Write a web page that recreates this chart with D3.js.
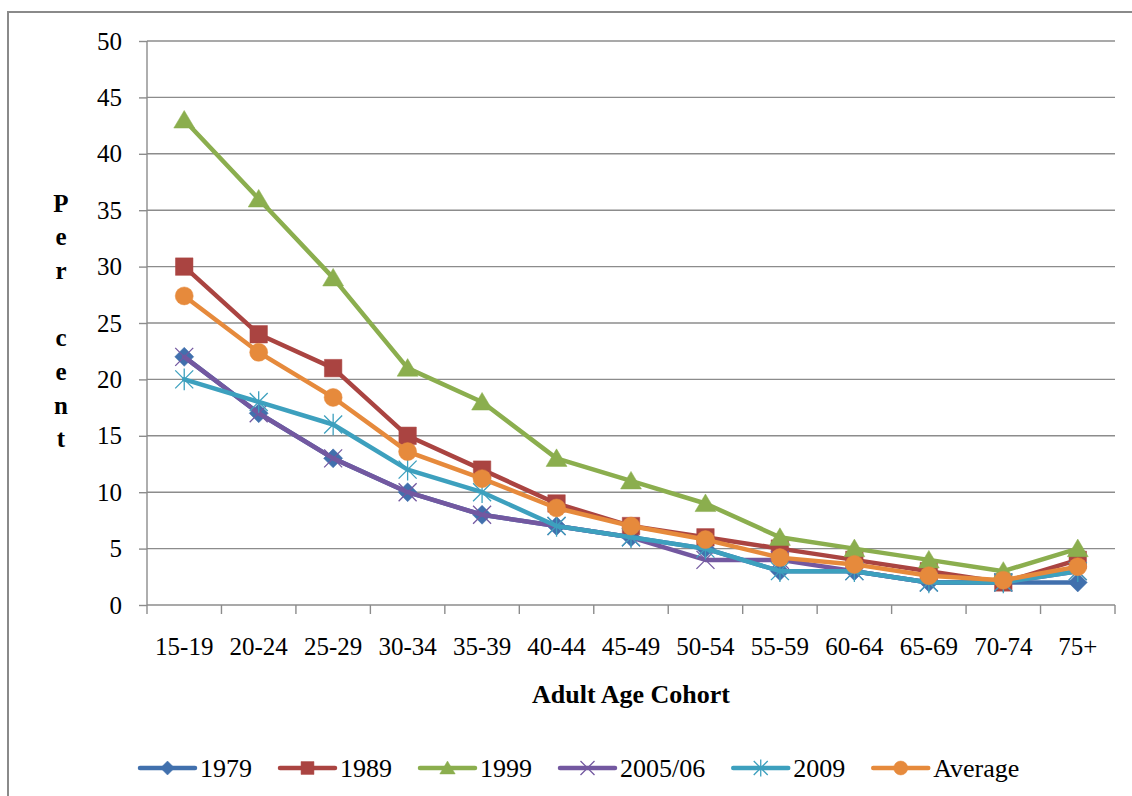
<!DOCTYPE html>
<html>
<head>
<meta charset="utf-8">
<script src="https://cdn.jsdelivr.net/npm/d3@7"></script>
<style>
html,body{margin:0;padding:0;background:#fff;}
svg{display:block;}
svg text{font-family:"Liberation Serif","Times New Roman","DejaVu Serif",serif !important;fill:#000;}
</style>
</head>
<body>
<svg id="chart" width="1132" height="796" font-family="Liberation Serif"></svg>
<script>
const categories = ["15-19","20-24","25-29","30-34","35-39","40-44","45-49","50-54","55-59","60-64","65-69","70-74","75+"];
const s1979 = [22,17,13,10,8,7,6,5,3,3,2,2,2];
const s1989 = [30,24,21,15,12,9,7,6,5,4,3,2,4];
const s1999 = [43,36,29,21,18,13,11,9,6,5,4,3,5];
const s2005 = [22,17,13,10,8,7,6,4,4,3,2,2,3];
const s2009 = [20,18,16,12,10,7,6,5,3,3,2,2,3];
const sAvg  = [27.4,22.4,18.4,13.6,11.2,8.6,7.0,5.8,4.2,3.6,2.6,2.2,3.4];
const seriesNames = ["1979","1989","1999","2005/06","2009","Average"];
const yTicks = [0,5,10,15,20,25,30,35,40,45,50];
const yTitle = ["P","e","r","","c","e","n","t"];
const xTitle = "Adult Age Cohort";

const FONT = '"Liberation Serif","Times New Roman","DejaVu Serif",serif';

const series = [
  {name:seriesNames[0], values:s1979, color:"#4170AD", marker:"diamond"},
  {name:seriesNames[1], values:s1989, color:"#AA4441", marker:"square"},
  {name:seriesNames[2], values:s1999, color:"#8BAE4E", marker:"triangle"},
  {name:seriesNames[3], values:s2005, color:"#7358A0", marker:"x"},
  {name:seriesNames[4], values:s2009, color:"#3DA0BE", marker:"star"},
  {name:seriesNames[5], values:sAvg,  color:"#E68A3C", marker:"circle"}
];

const svg = d3.select("#chart");
const pLeft = 147, pRight = 1115, pTop = 41, pBottom = 605;

const x = d3.scaleBand().domain(categories).range([pLeft, pRight]).paddingInner(0).paddingOuter(0);
const y = d3.scaleLinear().domain([0, 50]).range([pBottom, pTop]);

// outer frame
svg.append("path").attr("d", "M8,800 L8,12 L1132,12").attr("fill","none").attr("stroke","#8a8a8a").attr("stroke-width",2);

// gridlines
svg.append("g").selectAll("line").data(yTicks.filter(d=>d>0)).join("line")
  .attr("x1", pLeft).attr("x2", pRight)
  .attr("y1", d=>y(d)).attr("y2", d=>y(d))
  .attr("stroke","#8c8c8c").attr("stroke-width",1.4);

// y axis
const yAxis = d3.axisLeft(y).tickValues(yTicks).tickSize(8).tickPadding(17).tickFormat(d3.format("d"));
const gy = svg.append("g").attr("transform",`translate(${pLeft},0)`).call(yAxis);
gy.attr("font-family", FONT).attr("font-size", 25);
gy.select(".domain").attr("stroke","#8c8c8c").attr("stroke-width",1.4).attr("d",`M0,${pTop}V${pBottom}`);
gy.selectAll(".tick line").attr("stroke","#8c8c8c").attr("stroke-width",1.4);
gy.selectAll(".tick text").style("font-family",FONT).style("font-size","25px").attr("fill","#000");

// x axis
const gx = svg.append("g").attr("transform",`translate(0,${pBottom})`);
gx.append("line").attr("x1",pLeft).attr("x2",pRight).attr("y1",0).attr("y2",0).attr("stroke","#8c8c8c").attr("stroke-width",1.4);
const bounds = categories.map(c=>x(c)).concat([x(categories[categories.length-1])+x.bandwidth()]);
gx.selectAll("line.tk").data(bounds).join("line").attr("class","tk")
  .attr("x1",d=>d).attr("x2",d=>d).attr("y1",0).attr("y2",9)
  .attr("stroke","#8c8c8c").attr("stroke-width",1.4);
gx.selectAll("text").data(categories).join("text")
  .attr("x",d=>x(d)+x.bandwidth()/2).attr("y",50)
  .attr("text-anchor","middle").style("font-family",FONT).style("font-size","25px").text(d=>d);

// axis titles
svg.append("text").attr("x",631).attr("y",703).attr("text-anchor","middle")
  .style("font-family",FONT).style("font-size","26px").style("font-weight","bold").text(xTitle);
svg.append("g").selectAll("text").data(yTitle).join("text")
  .attr("x",61).attr("y",(d,i)=>211.5+i*33.7).attr("text-anchor","middle")
  .style("font-family",FONT).style("font-size","25px").style("font-weight","bold").text(d=>d);

// marker paths
function markerPath(type, s){
  switch(type){
    case "diamond": return `M0,${-s}L${s},0L0,${s}L${-s},0Z`;
    case "square": return `M${-s*0.92},${-s*0.92}H${s*0.92}V${s*0.92}H${-s*0.92}Z`;
    case "triangle": return `M0,${-s}L${s*1.1},${s*0.85}L${-s*1.1},${s*0.85}Z`;
    case "x": return `M${-s},${-s}L${s},${s}M${s},${-s}L${-s},${s}`;
    case "star": return `M${-s},${-s}L${s},${s}M${s},${-s}L${-s},${s}M0,${-s*1.2}L0,${s*1.2}`;
    case "circle": return d3.symbol(d3.symbolCircle, Math.PI*s*s)();
  }
}
function drawMarker(g, type, color, s){
  const filled = !(type==="x"||type==="star");
  g.append("path").attr("d", markerPath(type, s))
    .attr("fill", filled ? color : "none")
    .attr("stroke", color)
    .attr("stroke-width", filled ? 0.5 : 1.3)
    .attr("stroke-linejoin","miter");
}

const line = d3.line().x((d,i)=>x(categories[i])+x.bandwidth()/2).y(d=>y(d));

series.forEach(sr=>{
  const g = svg.append("g");
  g.append("path").datum(sr.values).attr("d", line)
    .attr("fill","none").attr("stroke",sr.color).attr("stroke-width",4.5)
    .attr("stroke-linejoin","round").attr("stroke-linecap","round");
  sr.values.forEach((v,i)=>{
    const mg = g.append("g").attr("transform",`translate(${x(categories[i])+x.bandwidth()/2},${y(v)})`);
    const size = sr.marker==="circle" ? 9 : (sr.marker==="x"||sr.marker==="star" ? 9 : 9.5);
    drawMarker(mg, sr.marker, sr.color, size);
  });
});

// legend
const legend = svg.append("g");
let lx = 140;
const ly = 768;
series.forEach(sr=>{
  const g = legend.append("g");
  g.append("line").attr("x1",lx).attr("x2",lx+55).attr("y1",ly).attr("y2",ly)
    .attr("stroke",sr.color).attr("stroke-width",4.5).attr("stroke-linecap","round");
  const mg = g.append("g").attr("transform",`translate(${lx+27.5},${ly})`);
  drawMarker(mg, sr.marker, sr.color, 7);
  const t = g.append("text").attr("x",lx+60).attr("y",ly+9).style("font-family",FONT).style("font-size","26px").text(sr.name);
  lx = lx + 60 + t.node().getComputedTextLength() + 28;
});
</script>
</body>
</html>
